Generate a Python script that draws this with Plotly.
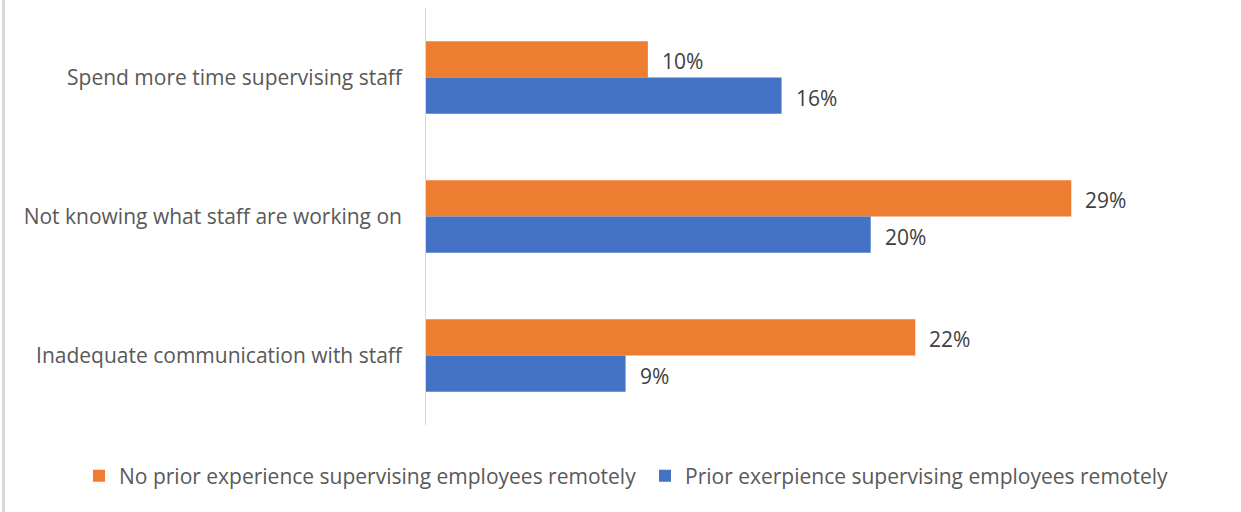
import plotly.graph_objects as go

# Survey results: challenges reported by supervisors
categories = [
    "Spend more time supervising staff",
    "Not knowing what staff are working on",
    "Inadequate communication with staff",
]
no_prior = [10, 29, 22]
prior = [16, 20, 9]
series_names = [
    "No prior experience supervising employees remotely",
    "Prior exerpience supervising employees remotely",
]

ORANGE = "#ED7D31"
BLUE = "#4472C4"
FONT = "Open Sans"
FS = 21

# plot area geometry (px)
L, R, T, B = 425, 36, 8, 87
PW, PH = 1241 - L - R, 512 - T - B

fig = go.Figure()
fig.add_trace(go.Bar(
    y=categories, x=no_prior, orientation="h", name=series_names[0],
    marker=dict(color=ORANGE, line=dict(width=0)),
))
fig.add_trace(go.Bar(
    y=categories, x=prior, orientation="h", name=series_names[1],
    marker=dict(color=BLUE, line=dict(width=0)),
))

# value labels just past the end of each bar (bar centres at +/-0.13 of a slot)
for vals, off in ((no_prior, -0.13), (prior, 0.13)):
    for i, v in enumerate(vals):
        fig.add_annotation(
            x=v, y=i + off, xref="x", yref="y", text=f"{v}%",
            showarrow=False, xanchor="left", yanchor="middle",
            xshift=12, yshift=-2,
            font=dict(family=FONT, size=FS, color="#404040"),
        )

fig.update_layout(
    width=1241, height=512,
    margin=dict(l=L, r=R, t=T, b=B, pad=0),
    paper_bgcolor="white", plot_bgcolor="white",
    barmode="group", bargap=0.48, bargroupgap=0,
    font=dict(family=FONT, size=FS, color="#595959"),
    showlegend=True,
    legend=dict(
        orientation="h", xref="paper", yref="paper",
        x=(79 - L) / PW, y=(512 - B - 476) / PH,
        xanchor="left", yanchor="middle",
        font=dict(family=FONT, size=FS, color="#595959"),
        traceorder="normal", itemwidth=30,
        entrywidth=521, entrywidthmode="pixels",
    ),
    shapes=[dict(type="line", xref="paper", yref="paper",
                 x0=(3.5 - L) / PW, x1=(3.5 - L) / PW,
                 y0=-B / PH, y1=1 + T / PH,
                 line=dict(color="#D9D9D9", width=3))],
)
fig.update_xaxes(range=[0, 35], visible=False, showgrid=False, zeroline=False)
fig.update_yaxes(
    type="category", categoryorder="array", categoryarray=categories,
    autorange="reversed", showline=False, ticks="", ticklabelstandoff=22,
    tickfont=dict(family=FONT, size=FS, color="#595959"),
    showgrid=False, zeroline=False,
)
# vertical category axis line
fig.add_shape(type="line", xref="x", yref="paper", x0=0, x1=0, y0=0, y1=1,
              line=dict(color="#D9D9D9", width=2), layer="above")

fig.write_html("out.html")
